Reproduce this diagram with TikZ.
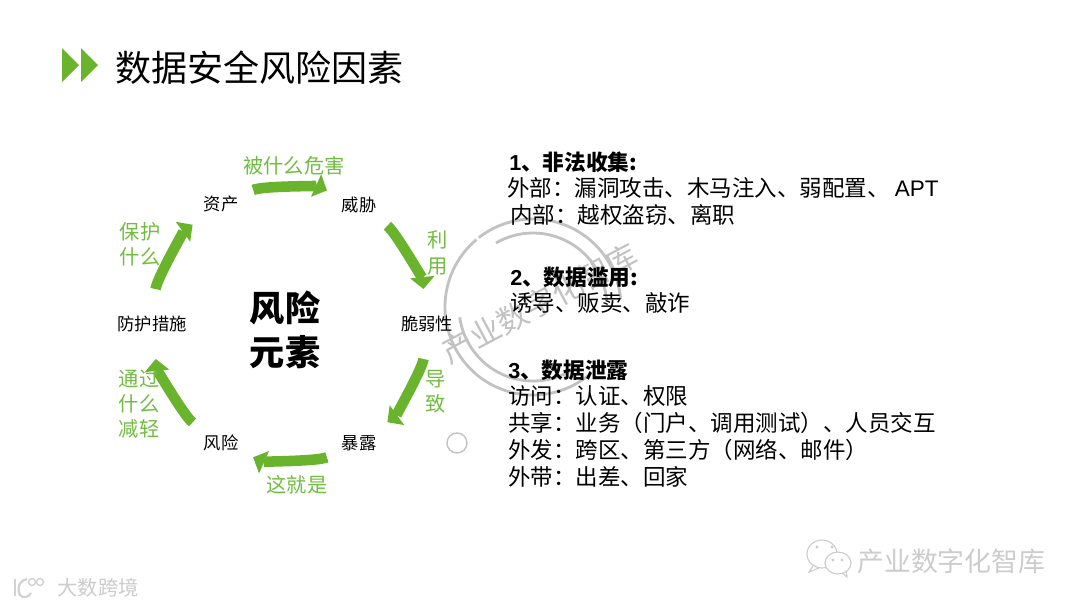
\documentclass[tikz,border=0pt]{standalone}
\usepackage{fontspec}
\setmainfont{Noto Sans CJK SC}
\newfontfamily\latinfont{Liberation Sans}
\usepackage{xcolor}
\usetikzlibrary{arrows.meta}
\definecolor{riskgreen}{HTML}{6AB42D}
\definecolor{labelgreen}{HTML}{71BC41}
\definecolor{stampgray}{HTML}{C2C2C2}

\begin{document}
\begin{tikzpicture}[x=0.025cm, y=-0.025cm,
  elem/.style={font=\fontsize{12.3}{14}\selectfont, inner sep=0pt},
  cyclearrow/.style={-{Triangle[length=8.5pt, width=17pt]}, line width=7.5pt, draw=riskgreen, looseness=0.84, shorten <=25pt, shorten >=25pt},
  greenlabel/.style={font=\fontsize{14.4}{18}\selectfont, text=labelgreen, align=center, inner sep=0pt},
  factor/.style={font=\fontsize{16}{19}\selectfont, anchor=west, inner sep=0pt},
  factorhead/.style={factor, font=\fontsize{15.4}{19}\selectfont\bfseries},
  stamp/.style={draw=stampgray, line width=2pt},
  markfaint/.style={text=gray!40, inner sep=0pt},
  markline/.style={draw=gray!40, line width=.8pt}
]
\useasboundingbox (0,0) rectangle (1080,608);
% title
\fill[riskgreen] (62,48) -- (79,65) -- (62,82) -- cycle;
\fill[riskgreen] (81,48) -- (98,65) -- (81,82) -- cycle;
\node[anchor=west, inner sep=0pt, font=\fontsize{25.6}{30}\selectfont] (title) at (115.5,68) {数据安全风险因素};
% watermark
\draw[stamp] (533,307) ++(50:88) arc (50:230:88);
\draw[stamp] (533,307) ++(-5:88) arc (-5:-128:88);
\draw[stamp] (533,307) ++(52:74) arc (52:172:74);
\draw[stamp] (533,307) ++(-5:74) arc (-5:-120:74);
\node[rotate=28, markfaint, text=stampgray, font=\fontsize{22}{24}\selectfont] (stamptext) at (540,303) {产业数字化智库};
\draw[stampgray, line width=1pt] (457,443) circle (10);
% cycle
\node[elem] (asset) at (221,204) {资产};
\node[elem] (threat) at (359,205) {威胁};
\node[elem] (vuln) at (427,324) {脆弱性};
\node[elem] (expo) at (359,443) {暴露};
\node[elem] (risk) at (221,443) {风险};
\node[elem] (guard) at (152,324) {防护措施};
\node[inner sep=0pt, align=center, font=\fontsize{25}{31}\selectfont\bfseries] (core) at (285,330) {风险\\元素};
\draw[cyclearrow] (asset.center) to[bend left=24] (threat.center);
\draw[cyclearrow] (threat.center) to[bend left=24] (vuln.center);
\draw[cyclearrow] (vuln.center) to[bend left=24] (expo.center);
\draw[cyclearrow] (expo.center) to[bend left=24] (risk.center);
\draw[cyclearrow] (risk.center) to[bend left=24] (guard.center);
\draw[cyclearrow] (guard.center) to[bend left=24] (asset.center);
\node[greenlabel] (harm) at (294,166) {被什么危害};
\node[greenlabel] (exploit) at (438,253) {利\\用};
\node[greenlabel] (cause) at (436,392) {导\\致};
\node[greenlabel] (isthis) at (297,485) {这就是};
\node[greenlabel] (reduce) at (139,404) {通过\\什么\\减轻};
\node[greenlabel] (protect) at (140,244) {保护\\什么};
% right text
\node[factorhead] (headone) at (509,162) {{\latinfont 1}、非法收集:};
\node[factor] (outer) at (507,188) {外部：漏洞攻击、木马注入、弱配置、 {\latinfont APT}};
\node[factor] (inner) at (510,215) {内部：越权盗窃、离职};
\node[factorhead] (headtwo) at (510,277) {{\latinfont 2}、数据滥用:};
\node[factor] (abuse) at (510,303) {诱导、贩卖、敲诈};
\node[factorhead] (headthree) at (508,370) {{\latinfont 3}、数据泄露};
\node[factor] (access) at (508,396) {访问：认证、权限};
\node[factor] (share) at (508,423) {共享：业务（门户、调用测试）、人员交互};
\node[factor] (send) at (508,450) {外发：跨区、第三方（网络、邮件）};
\node[factor] (carry) at (508,477) {外带：出差、回家};
% footer marks
\node[markfaint, anchor=west, font=\fontsize{19.1}{22}\selectfont] (wechat) at (857,561) {产业数字化智库};
\draw[markline, fill=white] (822,554) ellipse (15 and 14);
\draw[markline] (813,566) -- (809,572) -- (819,568);
\draw[markline, fill=white] (838,563) ellipse (13 and 11);
\draw[markline] (842,573) -- (847,577) -- (846,571);
\fill[gray!40] (817,547) circle (1.6) (832,547) circle (1.6) (833,560) circle (1.6) (842,560) circle (1.6);
\node[markfaint, anchor=west, font=\fontsize{14.5}{18}\selectfont] (brand) at (57,588) {大数跨境};
\draw[gray!35, line width=1.6pt] (15,579) -- (15,596);
\draw[gray!35, line width=1.6pt] (27,579) .. controls (18,581) and (17,590) .. (20,595) .. controls (23,599) and (29,597) .. (31,593);
\draw[gray!35, line width=1pt] (32,582) circle (3.5) (40,582) circle (3.5);
\end{tikzpicture}
\end{document}
